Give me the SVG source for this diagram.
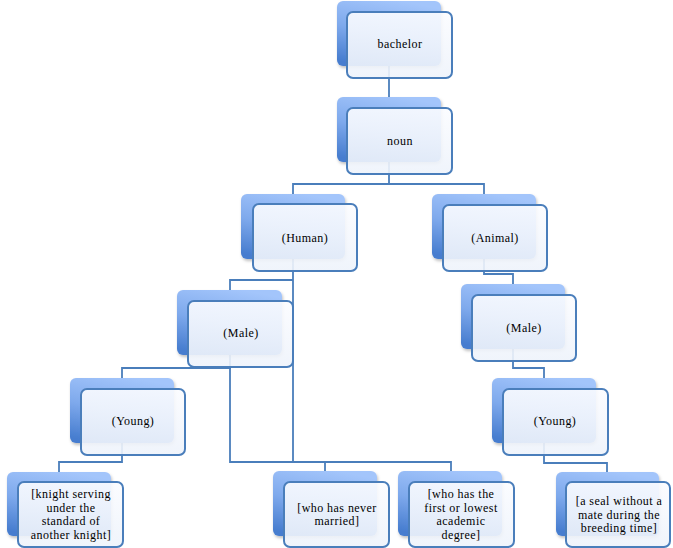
<svg xmlns="http://www.w3.org/2000/svg" width="673" height="548" viewBox="0 0 673 548">
<defs>
<linearGradient id="gb" x1="0.6" y1="0" x2="0.3" y2="1">
<stop offset="0" stop-color="#a3c5fb"/>
<stop offset="0.5" stop-color="#7ea9ec"/>
<stop offset="1" stop-color="#477dcf"/>
</linearGradient>
<linearGradient id="gf" x1="0" y1="0" x2="0" y2="1">
<stop offset="0" stop-color="#fbfcff"/>
<stop offset="1" stop-color="#eef3fb"/>
</linearGradient>
<filter id="sh" x="-10%" y="-10%" width="125%" height="130%">
<feDropShadow dx="1" dy="2" stdDeviation="1.5" flood-color="#000" flood-opacity="0.25"/>
</filter>
</defs>
<style>
.b{fill:url(#gb);filter:url(#sh)}
.f{fill:url(#gf);fill-opacity:0.9;stroke:#4a7ebb;stroke-width:2}
.c{fill:none;stroke:#4a7ebb;stroke-width:1.8}
.t{font-size:12px;letter-spacing:0.45px;fill:#000;text-anchor:middle}
</style>
<rect width="673" height="548" fill="#fff"/>
<g id="connectors">
<path class="c" d="M389,60V100"/>
<path class="c" d="M389,160V184H293V200M389,184H484V200"/>
<path class="c" d="M293,255V462M293,280H230V295"/>
<path class="c" d="M230,350V462H451V476M325,462V476"/>
<path class="c" d="M230,350V368H122V382"/>
<path class="c" d="M122,440V462H59V476"/>
<path class="c" d="M484,255V274H513V288"/>
<path class="c" d="M513,345V368H544V382"/>
<path class="c" d="M544,440V463H607V476"/>
</g>
<g class="t" font-family="'Liberation Serif', 'Times New Roman', 'DejaVu Serif', serif">
<g id="bachelor"><rect class="b" x="337" y="1" width="104" height="65" rx="6"/><rect class="f" x="347" y="12" width="105" height="66" rx="6"/><text x="400" y="48">bachelor</text></g>
<g id="noun"><rect class="b" x="337" y="97" width="104" height="65" rx="6"/><rect class="f" x="347" y="108" width="105" height="66" rx="6"/><text x="400" y="145">noun</text></g>
<g id="human"><rect class="b" x="241" y="194" width="104" height="65" rx="6"/><rect class="f" x="253" y="204" width="104" height="67" rx="6"/><text x="305" y="242">(Human)</text></g>
<g id="animal"><rect class="b" x="432" y="194" width="104" height="65" rx="6"/><rect class="f" x="443" y="205" width="104" height="66" rx="6"/><text x="495" y="242">(Animal)</text></g>
<g id="male-human"><rect class="b" x="177" y="290" width="105" height="65" rx="6"/><rect class="f" x="188" y="301" width="105" height="66" rx="6"/><text x="241" y="337">(Male)</text></g>
<g id="male-animal"><rect class="b" x="461" y="284" width="104" height="65" rx="6"/><rect class="f" x="472" y="295" width="104" height="66" rx="6"/><text x="524" y="332">(Male)</text></g>
<g id="young-human"><rect class="b" x="70" y="378" width="104" height="65" rx="6"/><rect class="f" x="81" y="389" width="104" height="66" rx="6"/><text x="133" y="425">(Young)</text></g>
<g id="young-animal"><rect class="b" x="492" y="378" width="104" height="65" rx="6"/><rect class="f" x="503" y="389" width="105" height="66" rx="6"/><text x="555" y="425">(Young)</text></g>
<g id="knight"><rect class="b" x="7" y="472" width="104" height="64" rx="6"/><rect class="f" x="18" y="482" width="105" height="65" rx="6"/><text x="71" y="498">[knight serving</text><text x="71" y="511.5">under the</text><text x="71" y="525">standard of</text><text x="71" y="538.5">another knight]</text></g>
<g id="never-married"><rect class="b" x="273" y="471" width="104" height="65" rx="6"/><rect class="f" x="284" y="482" width="105" height="65" rx="6"/><text x="337" y="511.5">[who has never</text><text x="337" y="525">married]</text></g>
<g id="academic"><rect class="b" x="398" y="471" width="104" height="65" rx="6"/><rect class="f" x="409" y="482" width="105" height="65" rx="6"/><text x="461" y="498">[who has the</text><text x="461" y="511.5">first or lowest</text><text x="461" y="525">academic</text><text x="461" y="538.5">degree]</text></g>
<g id="seal"><rect class="b" x="556" y="472" width="103" height="64" rx="6"/><rect class="f" x="566" y="482" width="104" height="65" rx="6"/><text x="619" y="505">[a seal without a</text><text x="619" y="518.5">mate during the</text><text x="619" y="532">breeding time]</text></g>
</g>
</svg>
